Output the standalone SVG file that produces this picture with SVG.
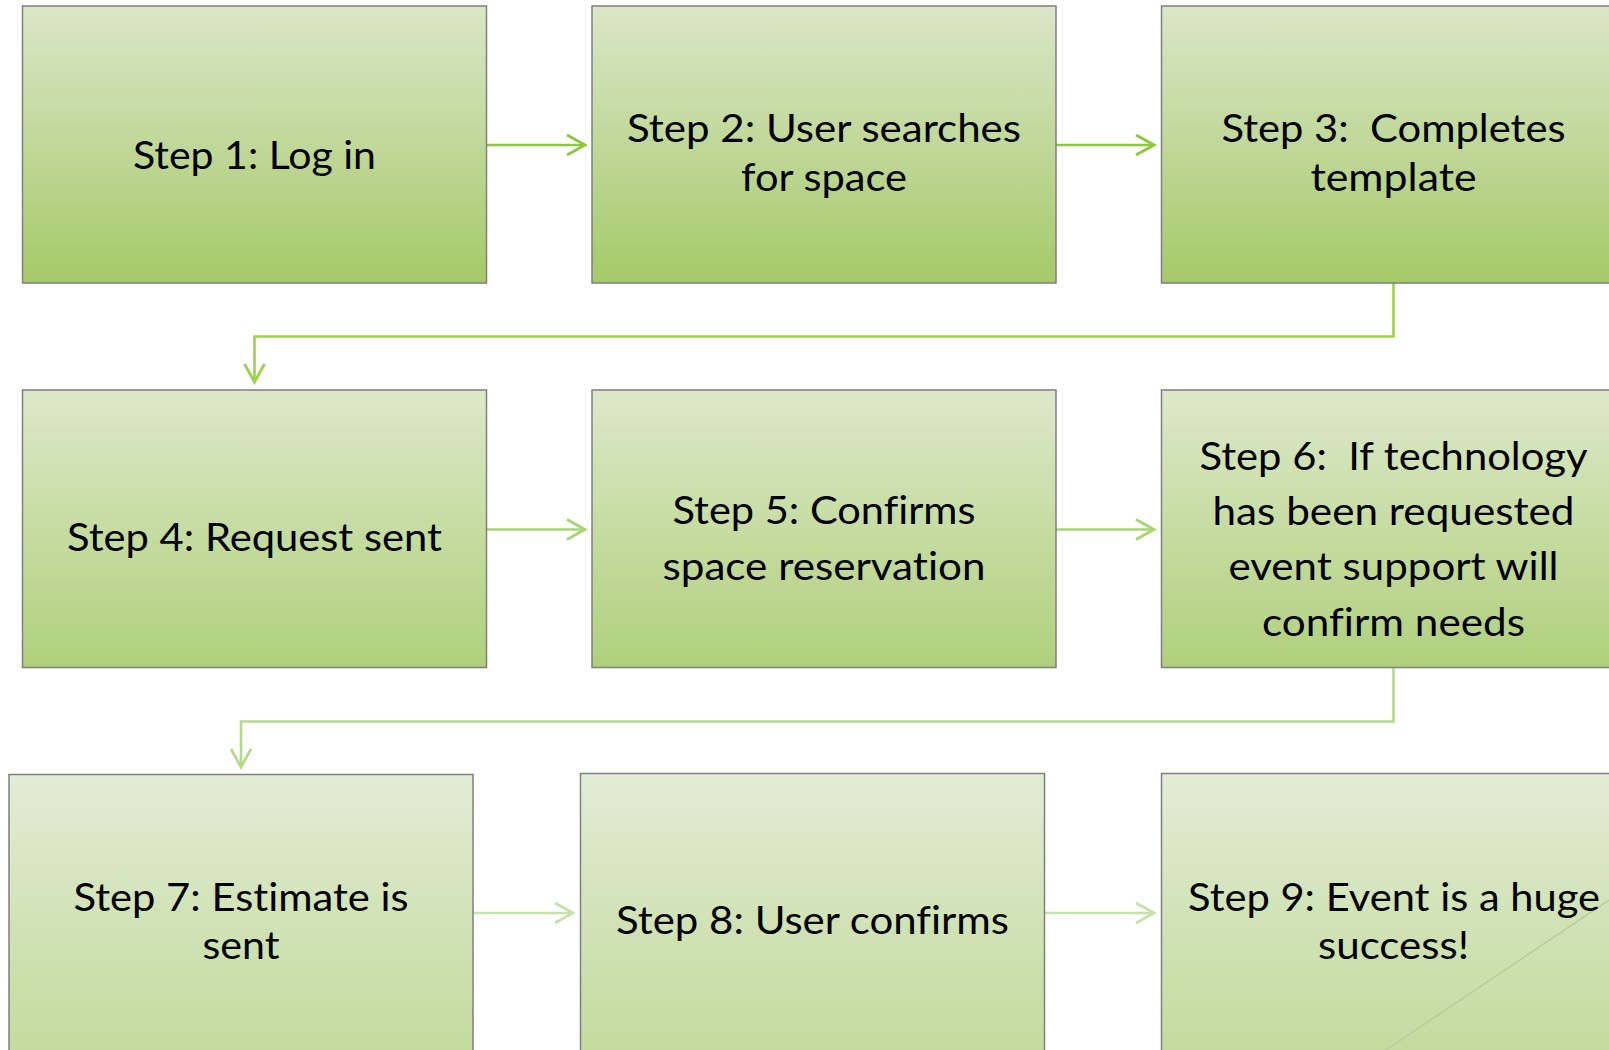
<svg xmlns="http://www.w3.org/2000/svg" width="1609" height="1050" viewBox="0 0 1609 1050">
  <defs>
    <linearGradient id="g1" x1="0" y1="0" x2="0" y2="1">
      <stop offset="0" stop-color="#dae6c8"/>
      <stop offset="0.5" stop-color="#c0d899"/>
      <stop offset="1" stop-color="#a6c968"/>
    </linearGradient>
    <linearGradient id="g2" x1="0" y1="0" x2="0" y2="1">
      <stop offset="0" stop-color="#dde8ca"/>
      <stop offset="0.5" stop-color="#c6dca2"/>
      <stop offset="1" stop-color="#b0d07c"/>
    </linearGradient>
    <linearGradient id="g3" x1="0" y1="0" x2="0" y2="1">
      <stop offset="0" stop-color="#e3ecd6"/>
      <stop offset="0.5" stop-color="#d2e3b8"/>
      <stop offset="1" stop-color="#c3db9e"/>
    </linearGradient>
    <marker id="a1" markerUnits="userSpaceOnUse" markerWidth="24" markerHeight="26" refX="21" refY="12" orient="auto" viewBox="0 0 24 24">
      <path d="M3 2 L21 12 L3 22" fill="none" stroke="#8dc63f" stroke-width="2.8"/>
    </marker>
    <marker id="a2" markerUnits="userSpaceOnUse" markerWidth="24" markerHeight="26" refX="21" refY="12" orient="auto" viewBox="0 0 24 24">
      <path d="M3 2 L21 12 L3 22" fill="none" stroke="#9dd24c" stroke-width="2.8"/>
    </marker>
    <marker id="a3" markerUnits="userSpaceOnUse" markerWidth="24" markerHeight="26" refX="21" refY="12" orient="auto" viewBox="0 0 24 24">
      <path d="M3 2 L21 12 L3 22" fill="none" stroke="#a8d571" stroke-width="2.8"/>
    </marker>
    <marker id="a4" markerUnits="userSpaceOnUse" markerWidth="24" markerHeight="26" refX="21" refY="12" orient="auto" viewBox="0 0 24 24">
      <path d="M3 2 L21 12 L3 22" fill="none" stroke="#b4da8e" stroke-width="2.8"/>
    </marker>
    <marker id="a5" markerUnits="userSpaceOnUse" markerWidth="24" markerHeight="26" refX="21" refY="12" orient="auto" viewBox="0 0 24 24">
      <path d="M3 2 L21 12 L3 22" fill="none" stroke="#c6e2aa" stroke-width="2.8"/>
    </marker>
  </defs>
  <style>
    .box { stroke: #7f7f7f; stroke-width: 1.5; }
    .r1 { fill: url(#g1); }
    .r2 { fill: url(#g2); }
    .r3 { fill: url(#g3); }
    .lbl { font-family: Lato, "Open Sans", "Liberation Sans", sans-serif; font-size: 39px; fill: #000; text-anchor: middle; font-variant-ligatures: none; }
    .c { fill: none; stroke-width: 2.6; }
  </style>
  <rect width="1609" height="1050" fill="#ffffff"/>

  <g id="connectors">
    <line class="c" x1="487" y1="145" x2="585" y2="145" stroke="#8dc63f" marker-end="url(#a1)"/>
    <line class="c" x1="1056" y1="145" x2="1154" y2="145" stroke="#8dc63f" marker-end="url(#a1)"/>
    <polyline class="c" points="1393.5,283 1393.5,336.5 254.5,336.5 254.5,382" stroke="#9dd24c" marker-end="url(#a2)"/>
    <line class="c" x1="487" y1="529.5" x2="585" y2="529.5" stroke="#a8d571" marker-end="url(#a3)"/>
    <line class="c" x1="1056" y1="529.5" x2="1154" y2="529.5" stroke="#a8d571" marker-end="url(#a3)"/>
    <polyline class="c" points="1393.5,667 1393.5,721.5 241,721.5 241,767" stroke="#b4da8e" marker-end="url(#a4)"/>
    <line class="c" x1="473.5" y1="913" x2="573" y2="913" stroke="#c6e2aa" marker-end="url(#a5)"/>
    <line class="c" x1="1045" y1="913" x2="1154" y2="913" stroke="#c6e2aa" marker-end="url(#a5)"/>
  </g>

  <g id="step1">
    <rect class="box r1" x="22.5" y="6" width="464" height="277"/>
    <text class="lbl" x="254.5" y="169" textLength="243" lengthAdjust="spacingAndGlyphs">Step 1: Log in</text>
  </g>
  <g id="step2">
    <rect class="box r1" x="592" y="6" width="464" height="277"/>
    <text class="lbl" x="824" y="141.5" textLength="394" lengthAdjust="spacingAndGlyphs">Step 2: User searches</text>
    <text class="lbl" x="824" y="190.5" textLength="166" lengthAdjust="spacingAndGlyphs">for space</text>
  </g>
  <g id="step3">
    <rect class="box r1" x="1161.5" y="6" width="464" height="277"/>
    <text class="lbl" x="1393.5" y="141.5" textLength="344" lengthAdjust="spacingAndGlyphs" xml:space="preserve">Step 3:  Completes</text>
    <text class="lbl" x="1393.5" y="190.5" textLength="166" lengthAdjust="spacingAndGlyphs">template</text>
  </g>

  <g id="step4">
    <rect class="box r2" x="22.5" y="390" width="464" height="277.5"/>
    <text class="lbl" x="254.5" y="550.5" textLength="375" lengthAdjust="spacingAndGlyphs">Step 4: Request sent</text>
  </g>
  <g id="step5">
    <rect class="box r2" x="592" y="390" width="464" height="277.5"/>
    <text class="lbl" x="824" y="524" textLength="303" lengthAdjust="spacingAndGlyphs">Step 5: Confirms</text>
    <text class="lbl" x="824" y="580" textLength="323" lengthAdjust="spacingAndGlyphs">space reservation</text>
  </g>
  <g id="step6">
    <rect class="box r2" x="1161.5" y="390" width="464" height="277.5"/>
    <text class="lbl" x="1393.5" y="469.5" textLength="388" lengthAdjust="spacingAndGlyphs" xml:space="preserve">Step 6:  If technology</text>
    <text class="lbl" x="1393.5" y="524.5" textLength="362" lengthAdjust="spacingAndGlyphs">has been requested</text>
    <text class="lbl" x="1393.5" y="580" textLength="330" lengthAdjust="spacingAndGlyphs">event support will</text>
    <text class="lbl" x="1393.5" y="635.5" textLength="263" lengthAdjust="spacingAndGlyphs">confirm needs</text>
  </g>

  <g id="step7">
    <rect class="box r3" x="9" y="774.5" width="464" height="278"/>
    <text class="lbl" x="241" y="911" textLength="335" lengthAdjust="spacingAndGlyphs">Step 7: Estimate is</text>
    <text class="lbl" x="241" y="959" textLength="77" lengthAdjust="spacingAndGlyphs">sent</text>
  </g>
  <g id="step8">
    <rect class="box r3" x="580.5" y="773.5" width="464" height="279"/>
    <text class="lbl" x="812.5" y="934" textLength="393" lengthAdjust="spacingAndGlyphs">Step 8: User confirms</text>
  </g>
  <g id="step9">
    <rect class="box r3" x="1161.5" y="773.5" width="464" height="279"/>
    <line x1="1386" y1="1050" x2="1609" y2="900" stroke="#b6cd9a" stroke-width="1.5"/>
    <text class="lbl" x="1394" y="911" textLength="412" lengthAdjust="spacingAndGlyphs">Step 9: Event is a huge</text>
    <text class="lbl" x="1393.5" y="959" textLength="151" lengthAdjust="spacingAndGlyphs">success!</text>
  </g>
</svg>
